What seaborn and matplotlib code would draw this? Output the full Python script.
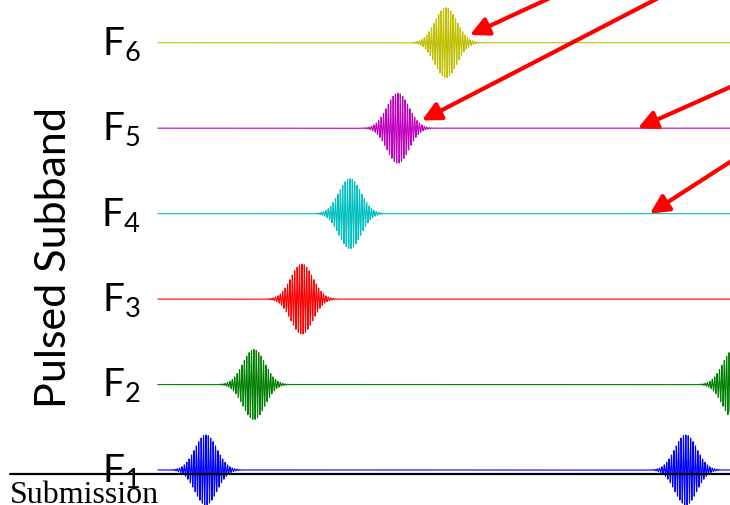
import numpy as np
import pandas as pd
import matplotlib
matplotlib.use('Agg')
import matplotlib.pyplot as plt
from matplotlib.lines import Line2D
import seaborn as sns

# --- DATA ---
bands = ['F1', 'F2', 'F3', 'F4', 'F5', 'F6']
levels = [1, 2, 3, 4, 5, 6]
pulse_centers = [1.0, 2.0, 3.0, 4.0, 5.0, 6.0]   # time slot of each pulse
repeat_period = 10.0                              # frame length (slots)
pulse_amp = 0.41
pulse_sigma = 0.23
carrier_period = 0.05
t_start, t_end = 0.0, 12.5

# arrows: (tail_t, tail_level) -> (head_t, head_level)
arrow_heads = [(6.5, 6.09), (5.5, 5.09), (10.0, 5.0), (10.25, 4.0)]
arrow_tails = [(9.0, 6.74), (11.17, 6.74), (12.96, 5.74), (12.96, 4.98)]

band_colors = ['#0000ff', '#008000', '#ff0000', '#00bfbf', '#bf00bf', '#bfbf00']

# --- BUILD SIGNALS ---
t = np.linspace(t_start, t_end, 40000)
rows = []
for name, lvl, c in zip(bands, levels, pulse_centers):
    sig = np.zeros_like(t)
    for cc in (c, c + repeat_period):
        env = np.exp(-(t - cc) ** 2 / (2 * pulse_sigma ** 2))
        sig += env * np.cos(2 * np.pi * (t - cc) / carrier_period)
    rows.append(pd.DataFrame({'t': t, 'v': lvl + pulse_amp * sig, 'band': name}))
df = pd.concat(rows, ignore_index=True)

# --- PLOT ---
sns.set_theme(style='white')
plt.rcParams['font.family'] = ['Lato', 'DejaVu Sans']
plt.rcParams['mathtext.fontset'] = 'custom'
plt.rcParams['mathtext.rm'] = 'Lato'
plt.rcParams['mathtext.it'] = 'Lato'

fig = plt.figure(figsize=(7.3, 5.05), dpi=100)
ax = fig.add_axes([0, 0, 1, 1])

# footer rule + label (slide decoration)
fig.add_artist(Line2D([10 / 730, 1], [1 - 474 / 505] * 2, color='black', lw=1.6,
                      transform=fig.transFigure, zorder=1))

sns.lineplot(data=df, x='t', y='v', hue='band', palette=band_colors, hue_order=bands,
             estimator=None, sort=False, lw=0.8, legend=False, ax=ax, zorder=2)

for name, lvl in zip(bands, levels):
    ax.text(-0.36, lvl - 0.14, r'$\mathrm{F}_{%s}$' % name[1:], ha='right', va='baseline',
            fontsize=28, color='black')

for (ht, hl), (tt, tl) in zip(arrow_heads, arrow_tails):
    ax.annotate('', xy=(ht, hl), xytext=(tt, tl), annotation_clip=False,
                arrowprops=dict(arrowstyle='-|>', color='#ff0000', lw=3,
                                mutation_scale=28, shrinkA=0, shrinkB=0), zorder=5)

ax.set_xlim(-3.29, 11.92)
ax.set_ylim(0.59, 6.50)
ax.axis('off')

fig.text(54 / 730, 1 - 258 / 505, 'Pulsed Subband', rotation=90, ha='center', va='center',
         fontsize=31, color='black')
fig.text(10 / 730, 1 - 503 / 505, 'Submission', ha='left', va='baseline', fontsize=23,
         family=['Liberation Serif'], color='black')

fig.savefig('out.png', dpi=100)
